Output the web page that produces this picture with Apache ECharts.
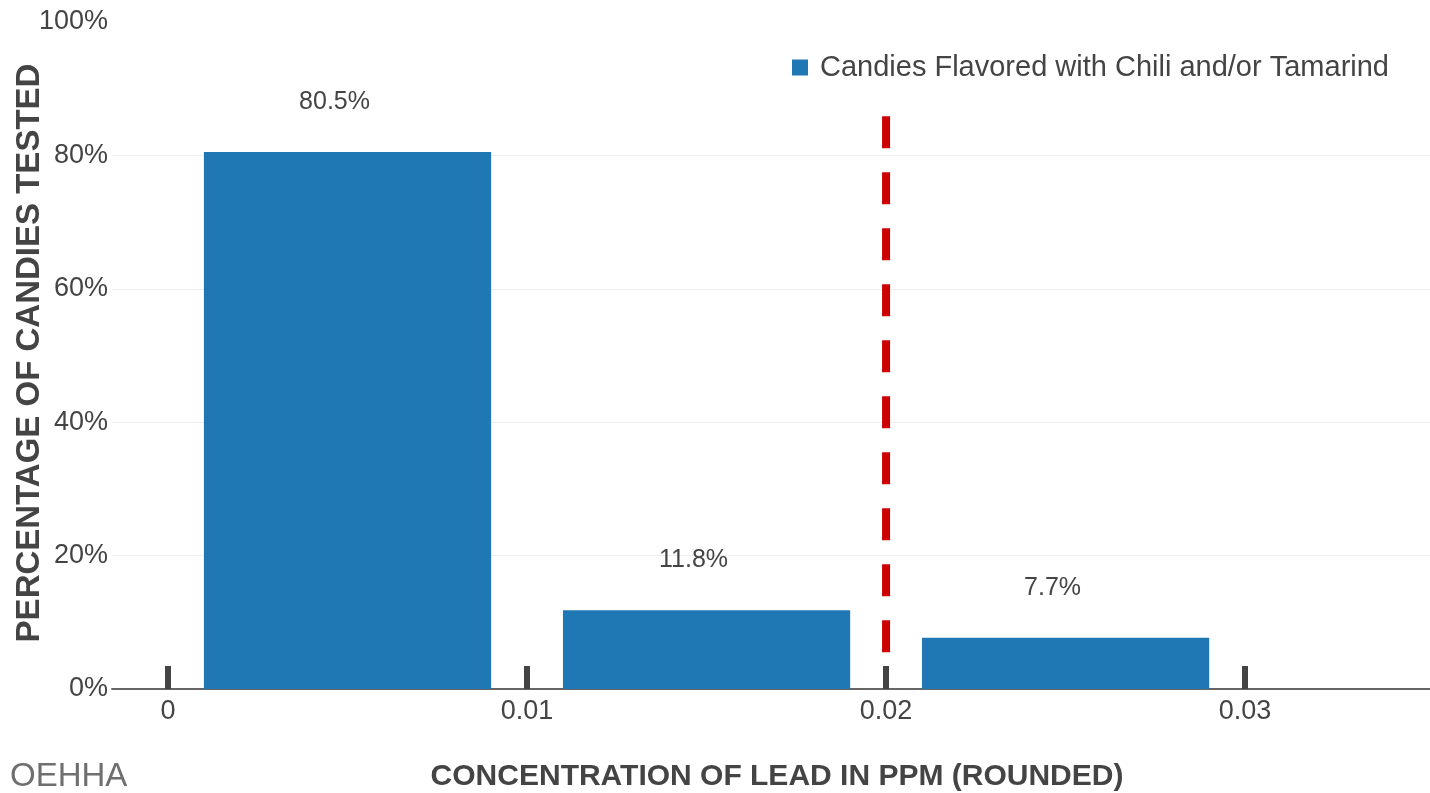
<!DOCTYPE html>
<html>
<head>
<meta charset="utf-8">
<script src="https://cdn.jsdelivr.net/npm/echarts@6/dist/echarts.min.js"></script>
<style>
  html, body { margin: 0; padding: 0; background: #fff; }
  #chart { width: 1430px; height: 793px; }
</style>
</head>
<body>
<div id="chart"></div>
<script>
// 数据
const binCenters = [0.005, 0.015, 0.025];
const binWidth = 0.008;
const percentValues = [80.5, 11.8, 7.7];
const tickValues = [0, 0.01, 0.02, 0.03];
const limitValue = 0.02;
const limitRange = [5.5, 86];
const seriesName = 'Candies Flavored with Chili and/or Tamarind';

const FONT = "'Liberation Sans', Arial, sans-serif";
const TEXT = '#444';

const chart = echarts.init(document.getElementById('chart'));

const barData = binCenters.map((c, i) => [c, percentValues[i]]);

const option = {
    animation: false,
    textStyle: { fontFamily: FONT },
    grid: { left: 112, right: 0, top: 22, bottom: 104 },
    legend: {
        left: 787, top: 48,
        itemWidth: 16, itemHeight: 16,
        data: [{ name: seriesName, icon: 'rect' }],
        textStyle: { fontSize: 29, color: TEXT, fontFamily: FONT, padding: [0, 0, 0, 7] }
    },
    xAxis: {
        type: 'value',
        min: -0.00156,
        max: 0.03515,
        splitLine: { show: false },
        axisLine: { lineStyle: { color: '#666', width: 2 } },
        axisTick: {
            show: true, inside: true, length: 23,
            customValues: tickValues,
            lineStyle: { color: TEXT, width: 6 }
        },
        axisLabel: {
            customValues: tickValues,
            fontSize: 27, color: TEXT, margin: 9,
            formatter: v => String(v)
        }
    },
    yAxis: {
        type: 'value',
        min: 0, max: 100, interval: 20,
        axisLine: { show: false },
        axisTick: { show: false },
        splitLine: { showMaxLine: false, lineStyle: { color: '#eee', width: 1 } },
        axisLabel: { fontSize: 27, color: TEXT, margin: 4, formatter: '{value}%' }
    },
    graphic: [
        {
            type: 'text', x: 30, y: 353, rotation: Math.PI / 2,
            style: {
                text: 'PERCENTAGE OF CANDIES TESTED', fontSize: 33, fontWeight: 'bold',
                fill: TEXT, fontFamily: FONT, align: 'center', verticalAlign: 'middle'
            }
        },
        {
            type: 'text', x: 777, y: 777,
            style: {
                text: 'CONCENTRATION OF LEAD IN PPM (ROUNDED)', fontSize: 30, fontWeight: 'bold',
                fill: TEXT, fontFamily: FONT, align: 'center', verticalAlign: 'middle'
            }
        },
        {
            type: 'text', x: 10, y: 777,
            style: {
                text: 'OEHHA', fontSize: 33, fill: '#6f6f6f', fontFamily: FONT,
                align: 'left', verticalAlign: 'middle'
            }
        }
    ],
    series: [
        {
            name: seriesName,
            type: 'custom',
            itemStyle: { color: '#1f77b4' },
            data: barData,
            renderItem: (params, api) => {
                const x = api.value(0);
                const y = api.value(1);
                const topLeft = api.coord([x - binWidth / 2, y]);
                const bottomRight = api.coord([x + binWidth / 2, 0]);
                return {
                    type: 'group',
                    children: [
                        {
                            type: 'rect',
                            shape: {
                                x: topLeft[0], y: topLeft[1],
                                width: bottomRight[0] - topLeft[0],
                                height: bottomRight[1] - topLeft[1]
                            },
                            style: { fill: '#1f77b4' }
                        },
                        {
                            // 标签稍微偏左
                            type: 'text',
                            x: (topLeft[0] + bottomRight[0]) / 2 - 13,
                            y: topLeft[1] - 50,
                            style: {
                                text: y + '%', fontSize: 25, fill: TEXT, fontFamily: FONT,
                                align: 'center', verticalAlign: 'middle'
                            }
                        }
                    ]
                };
            },
            z: 2
        },
        {
            name: 'limit',
            type: 'line',
            data: [[limitValue, limitRange[0]], [limitValue, limitRange[1]]],
            symbol: 'none',
            lineStyle: { color: '#cc0000', width: 8, type: [32, 24], cap: 'butt' },
            z: 3
        }
    ]
};

chart.setOption(option);
</script>
</body>
</html>
